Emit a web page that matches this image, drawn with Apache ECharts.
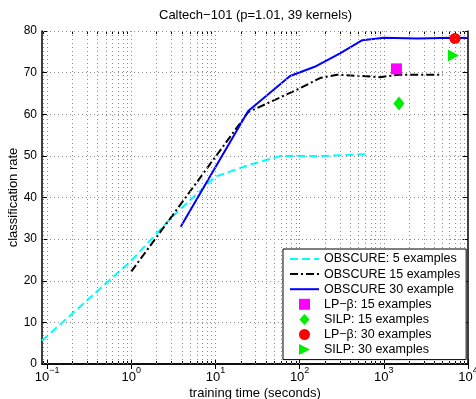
<!DOCTYPE html>
<html><head><meta charset="utf-8">
<script src="https://cdn.jsdelivr.net/npm/echarts@6/dist/echarts.min.js"></script>
<style>html,body{margin:0;padding:0;background:#fff}#c{width:476px;height:399px}</style>
</head><body><div id="c"></div>
<script>
// ---- data ----
const titleText = 'Caltech\u2212101 (p=1.01, 39 kernels)';
const xName = 'training time (seconds)';
const yName = 'classification rate';
const xMin = 0.0871, xMax = 10000;
const xDecades = [0.1, 1, 10, 100, 1000, 10000];
const yMin = 0, yMax = 80, yStep = 10;

const seriesNames = ['OBSCURE: 5 examples', 'OBSCURE 15 examples', 'OBSCURE 30 example',
  'LP\u2212\u03b2: 15 examples', 'SILP: 15 examples', 'LP\u2212\u03b2: 30 examples', 'SILP: 30 examples'];

const cyanTime = [0.0871, 1, 3, 10, 25, 60, 200, 600];
const cyanRate = [5.6, 24.8, 35.2, 45.0, 47.8, 50.0, 50.0, 50.4];
const blackTime = [1, 24.5, 100, 175, 280, 520, 900, 1500, 5000];
const blackRate = [22.2, 60.5, 66.2, 68.7, 69.5, 69.2, 68.9, 69.5, 69.5];
const blueTime = [3.87, 24.5, 77, 151, 302, 556, 1000, 2500, 6600, 10000];
const blueRate = [33.0, 60.8, 69.2, 71.4, 74.6, 77.8, 78.4, 78.2, 78.4, 78.3];
const lp15 = [1413, 70.9];
const silp15 = [1514, 62.6];
const lp30 = [7000, 78.2];
const silp30 = [6700, 74.1];

// ---- chart ----
const FONT = 'Liberation Sans, Arial, Helvetica, sans-serif';
const zip = (a, b) => a.map((v, i) => [v, b[i]]);
const gridVals = [], minorVals = [];
for (let e = -2; e <= 4; e++) for (let m = 1; m <= 9; m++) {
  const v = m * Math.pow(10, e);
  if (v > xMin * 1.001 && v < xMax * 0.999) { gridVals.push(v); if (m > 1) minorVals.push(v); }
}
const dotted = { color: '#8c8c8c', width: 1, type: [1, 3] };
const TRI = 'path://M0,0L10,5L0,10Z';
const SQR = 'path://M0,0L10,0L10,10L0,10Z';
const DIA = 'path://M5,0L10,7L5,14L0,7Z';
const DIA_L = 'path://M5,0L10,5.5L5,11L0,5.5Z';
const hiddenSym = { color: 'rgba(0,0,0,0)', opacity: 0, borderWidth: 0 };

function xLabel(v) {
  const l = Math.log10(v), n = Math.round(l);
  if (Math.abs(l - n) > 1e-6) return '';
  return '{b|10}{s|' + (n < 0 ? '\u2212' : '') + Math.abs(n) + '}';
}
const xAxisBase = {
  type: 'log', logBase: 10, min: xMin, max: xMax,
  axisLine: { show: true, lineStyle: { color: '#000', width: 1.5 } },
  axisTick: { show: true, inside: true, length: 5, customValues: xDecades, lineStyle: { color: '#000', width: 1 } },
  splitLine: { show: false }, minorTick: { show: false }
};
const xMinorBase = {
  type: 'log', logBase: 10, min: xMin, max: xMax,
  axisLine: { show: false }, axisLabel: { show: false }, splitLine: { show: false },
  axisTick: { show: true, inside: true, length: 3, customValues: minorVals, lineStyle: { color: '#000', width: 1 } }
};
const yAxisBase = {
  type: 'value', min: yMin, max: yMax, interval: yStep,
  axisLine: { show: true, lineStyle: { color: '#000', width: 1.5 } },
  axisTick: { show: true, inside: true, length: 5, lineStyle: { color: '#000', width: 1 } }
};

const chart = echarts.init(document.getElementById('c'), null, { renderer: 'canvas' });
chart.setOption({
  animation: false,
  backgroundColor: '#fff',
  textStyle: { fontFamily: FONT },
  title: { text: titleText, left: 154, top: 4, textStyle: { fontFamily: FONT, fontSize: 13, fontWeight: 'normal', color: '#000' } },
  grid: { left: 42, right: 8, top: 31, bottom: 35, containLabel: false, outerBoundsMode: 'none' },
  xAxis: [
    Object.assign({}, xAxisBase, {
      position: 'bottom', name: xName, nameLocation: 'middle', nameGap: 23, nameMoveOverlap: false,
      nameTextStyle: { fontFamily: FONT, fontSize: 13, color: '#000' },
      axisLabel: {
        show: true, margin: 2, customValues: xDecades, formatter: xLabel, hideOverlap: false,
        rich: {
          b: { fontFamily: FONT, fontSize: 13, color: '#000', verticalAlign: 'bottom' },
          s: { fontFamily: FONT, fontSize: 9, color: '#000', verticalAlign: 'bottom', padding: [0, 0, 8.5, 0] }
        }
      }
    }),
    Object.assign({}, xAxisBase, { position: 'top', axisLabel: { show: false } }),
    Object.assign({}, xMinorBase, { position: 'bottom', offset: 0 }),
    Object.assign({}, xMinorBase, { position: 'top', offset: 0 })
  ],
  yAxis: [
    Object.assign({}, yAxisBase, {
      position: 'left', name: yName, nameLocation: 'middle', nameGap: 22, nameMoveOverlap: false,
      nameTextStyle: { fontFamily: FONT, fontSize: 13, color: '#000' },
      axisLabel: { margin: 5, fontFamily: FONT, fontSize: 12, color: '#000' },
      splitLine: { show: true, lineStyle: dotted }
    }),
    Object.assign({}, yAxisBase, { position: 'right', axisLabel: { show: false }, splitLine: { show: false } })
  ],
  legend: {
    orient: 'vertical', left: 283, top: 249,
    padding: [3.5, 6, 3.5, 6], itemWidth: 29, itemHeight: 11, itemGap: 2.1,
    borderColor: '#000', borderWidth: 1, backgroundColor: '#fff',
    textStyle: { fontFamily: FONT, fontSize: 12.5, color: '#000' },
    data: [
      { name: seriesNames[0], itemStyle: hiddenSym },
      { name: seriesNames[1], itemStyle: hiddenSym },
      { name: seriesNames[2], itemStyle: hiddenSym },
      { name: seriesNames[3], icon: SQR }, { name: seriesNames[4], icon: DIA_L },
      { name: seriesNames[5], icon: 'circle' }, { name: seriesNames[6], icon: TRI }
    ],
    z: 10
  },
  series: [
    {
      type: 'line', name: 'grid', data: [], z: 1, silent: true,
      markLine: {
        silent: true, symbol: 'none', label: { show: false },
        lineStyle: dotted, data: gridVals.map(v => ({ xAxis: v }))
      }
    },
    { type: 'line', name: seriesNames[0], data: zip(cyanTime, cyanRate), symbol: 'none',
      lineStyle: { color: '#00ffff', width: 2, type: [8, 4] }, itemStyle: { color: '#00ffff' }, z: 3 },
    { type: 'line', name: seriesNames[1], data: zip(blackTime, blackRate), symbol: 'none',
      lineStyle: { color: '#000', width: 2, type: [8, 3, 2, 3] }, itemStyle: { color: '#000' }, z: 3 },
    { type: 'line', name: seriesNames[2], data: zip(blueTime, blueRate), symbol: 'none',
      lineStyle: { color: '#0000ff', width: 2 }, itemStyle: { color: '#0000ff' }, z: 3 },
    { type: 'scatter', name: seriesNames[3], data: [lp15], symbol: SQR, symbolSize: 11, itemStyle: { color: '#ff00ff', opacity: 1 }, z: 4 },
    { type: 'scatter', name: seriesNames[4], data: [silp15], symbol: DIA, symbolSize: [11, 14], itemStyle: { color: '#00ee00', opacity: 1 }, z: 4 },
    { type: 'scatter', name: seriesNames[5], data: [lp30], symbol: 'circle', symbolSize: 11, itemStyle: { color: '#ff0000', opacity: 1 }, z: 4 },
    { type: 'scatter', name: seriesNames[6], data: [silp30], symbol: TRI, symbolSize: [11, 12], itemStyle: { color: '#00ee00', opacity: 1 }, z: 4 }
  ]
});
</script>
</body></html>
